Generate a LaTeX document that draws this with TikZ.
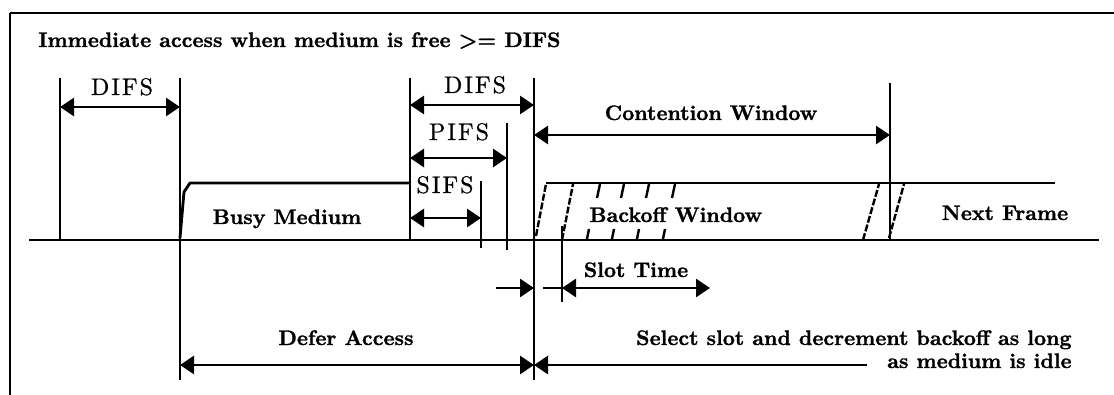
\documentclass[tikz,border=0pt]{standalone}
\usepackage{fontspec}
\newfontfamily\heavybx{lmroman10-bold.otf}[FakeBold=1.2]
\newfontfamily\heavyrm{lmroman10-regular.otf}[FakeBold=0.8]
\usetikzlibrary{arrows.meta}
\begin{document}
\begin{tikzpicture}[x=1pt,y=-1pt,line width=2.8pt,
  tri/.tip={Triangle[length=14pt,width=18pt]},
  dim/.style={line width=2.8pt,{tri}-{tri}},
  toright/.style={line width=2.8pt,-{tri}},
  lab/.style={font=\fontsize{21}{24}\selectfont\heavybx,inner sep=0pt,anchor=base},
  ifs/.style={font=\fontsize{24}{28}\selectfont\heavyrm,inner sep=0pt,anchor=base},
  dsh/.style={line width=2.4pt,dash pattern=on 7pt off 2pt}]
\fill[white] (0,0) rectangle (1114,395);
\useasboundingbox (0,0) rectangle (1114,395);
% frame
\draw (10,13) -- (1114,13);
\draw (10,13) -- (10,395);
% title
\node[lab,anchor=base west] (title) at (37,47) {Immediate access when medium is free >= DIFS};
% time axis
\draw (29,240) -- (1099,240);
% vertical markers
\draw (60,78) coordinate (v1t) -- (60,240) coordinate (v1b);
\draw (180,78) coordinate (v2t) -- (180,380) coordinate (v2b);
\draw (410,78) coordinate (v3t) -- (410,240) coordinate (v3b);
\draw (534,78) coordinate (v4t) -- (534,380) coordinate (v4b);
\draw (507,123) coordinate (vp) -- (507,250);
\draw (481,181) coordinate (vs) -- (481,248);
\draw (890,83) coordinate (v5t) -- (890,240);
\draw (562,226) -- (562,302) coordinate (vslot);
% busy medium
\draw[line join=round] (180,238) -- (184,192) -- (190,183) -- (410,183);
% backoff window
\draw[dsh] (536,236) -- (546,184);
\draw (546,183) -- (1055,183);
\draw[dsh] (562,240) -- (573,184);
\foreach \xb/\xt in {586/601,611/625,636/650,662/676}{
  \draw[line width=2.4pt] (\xt-1,184) -- (\xt-4,198);
  \draw[line width=2.4pt] (\xb+3,229) -- (\xb+1,239);
}
\draw[dsh] (863,240) -- (879,184);
\draw[dsh] (889,238) -- (904,184);
% dimension arrows
\draw[dim] (60,107) -- (180,107);
\draw[dim] (410,105) -- (534,105);
\draw[dim] (410,158) -- (507,158);
\draw[dim] (410,218) -- (481,218);
\draw[dim] (534,135) -- (890,135);
\draw[toright] (496,288) -- (534,288);
\draw (543,288) -- (562,288);
\draw[dim] (562,288) -- (710,288);
\draw[dim] (180,365) -- (534,365);
\draw[toright] (867,365) -- (534,365);
% labels
\node[ifs] (difs1) at (122,95) {D\kern2pt I\kern2pt F\kern2pt S};
\node[ifs] (difs2) at (475,93) {D\kern2pt I\kern2pt F\kern2pt S};
\node[ifs] (pifs) at (459,140) {P\kern2pt I\kern2pt F\kern2pt S};
\node[ifs] (sifs) at (445,193) {S\kern2pt I\kern2pt F\kern2pt S};
\node[lab] (cw) at (711,120) {Contention Window};
\node[lab] (busy) at (287,224) {Busy Medium};
\node[lab,anchor=base west] (bw) at (588,222) {Backoff Window};
\node[lab] (nf) at (1005,220) {Next Frame};
\node[lab] (slot) at (636,277) {Slot Time};
\node[lab] (defer) at (346,345) {Defer Access};
\node[lab,anchor=base east] (sel1) at (1073,345) {Select slot and decrement backoff as long};
\node[lab,anchor=base east] (sel2) at (1073,368) {as medium is idle};
\end{tikzpicture}
\end{document}
